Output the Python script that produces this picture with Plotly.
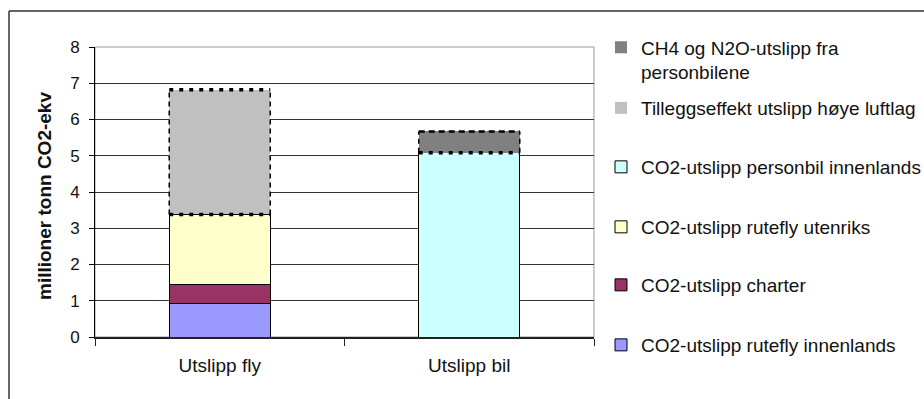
import numpy as np
import plotly.graph_objects as go

categories = ["Utslipp fly", "Utslipp bil"]

# series (stack order bottom -> top), None where not present
s_rutefly_inn = [0.92, None]
s_charter = [0.53, None]
s_rutefly_uten = [1.93, None]
s_personbil = [None, 5.08]
s_tillegg = [3.44, None]
s_ch4 = [None, 0.59]

names = [
    "CO2-utslipp rutefly innenlands",
    "CO2-utslipp charter",
    "CO2-utslipp rutefly utenriks",
    "CO2-utslipp personbil innenlands",
    "Tilleggseffekt utslipp høye luftlag",
    "CH4 og N2O-utslipp fra<br>personbilene",
]
series = [s_rutefly_inn, s_charter, s_rutefly_uten, s_personbil, s_tillegg, s_ch4]
colors = ["#9999FF", "#993366", "#FFFFCC", "#CCFFFF", "#C0C0C0", "#808080"]
dashed = [False, False, False, False, True, True]

yticks = [0, 1, 2, 3, 4, 5, 6, 7, 8]

W, H = 924, 399
L, R, T, B = 95, 330, 47, 62
pw, ph = W - L - R, H - T - B
BARW = 0.405

def px2x(px):
    return (px - L) / pw

def py2y(py):
    return (H - B - py) / ph

# legend entry centre rows (pixels)
legend_rows = {5: 60, 4: 108, 3: 167, 2: 227, 1: 285, 0: 345}

fig = go.Figure()
bases = np.zeros(len(categories))
shapes = []
for i, (nm, vals, col, dsh) in enumerate(zip(names, series, colors, dashed)):
    lg = "legend" if i == 0 else f"legend{i+1}"
    fig.add_trace(go.Bar(
        x=categories, y=vals, name=nm,
        marker=dict(color=col, line=dict(color="#000000", width=0 if dsh else 1)),
        width=BARW, legend=lg,
    ))
    v = np.array([0 if a is None else a for a in vals], dtype=float)
    if dsh:
        for ci in range(len(categories)):
            if vals[ci] is None:
                continue
            x0, x1 = ci - BARW / 2, ci + BARW / 2
            y0, y1 = bases[ci], bases[ci] + v[ci]
            side = dict(color="#000000", width=1.5, dash="5px,4px")
            shapes.append(dict(type="line", xref="x", yref="y", x0=x0, x1=x0, y0=y0, y1=y1, line=side))
            shapes.append(dict(type="line", xref="x", yref="y", x0=x1, x1=x1, y0=y0, y1=y1, line=side))
            top_dash = "4px,6px" if i == 4 else "6px,4px"
            shapes.append(dict(type="line", xref="x", yref="y", x0=x0, x1=x1, y0=y1, y1=y1,
                               line=dict(color="#000000", width=3.5 if i == 4 else 2.5, dash=top_dash)))
            shapes.append(dict(type="line", xref="x", yref="y", x0=x0, x1=x1, y0=y0, y1=y0,
                               line=dict(color="#000000", width=3.5, dash="4px,6px")))
    bases = bases + v

# plot-area border (gray)
shapes.append(dict(type="rect", xref="paper", yref="paper", x0=0, x1=1, y0=0, y1=1,
                   line=dict(color="#999999", width=1), layer="below"))
# outer chart border: only top and left edges are inside the picture
shapes.append(dict(type="line", xref="paper", yref="paper",
                   x0=px2x(9), x1=px2x(W), y0=py2y(11), y1=py2y(11),
                   line=dict(color="#333333", width=1.5), layer="below"))
shapes.append(dict(type="line", xref="paper", yref="paper",
                   x0=px2x(9), x1=px2x(9), y0=py2y(H), y1=py2y(11),
                   line=dict(color="#333333", width=1.5), layer="below"))

layout_legends = {}
for i in range(len(names)):
    key = "legend" if i == 0 else f"legend{i+1}"
    layout_legends[key] = dict(
        x=px2x(601), xanchor="left",
        y=py2y(legend_rows[i]), yanchor="middle",
        font=dict(family="Liberation Sans, Arial, sans-serif", size=19, color="#111111"),
        bgcolor="rgba(0,0,0,0)", borderwidth=0,
        valign="top",
    )

fig.update_layout(
    width=W, height=H,
    margin=dict(l=L, r=R, t=T, b=B, pad=0, autoexpand=False),
    paper_bgcolor="white", plot_bgcolor="white",
    barmode="stack", showlegend=True,
    font=dict(family="Liberation Sans, Arial, sans-serif", color="#111111"),
    shapes=shapes,
    xaxis=dict(
        type="category", showgrid=False, showline=True, linecolor="#222222", linewidth=1.5,
        ticks="outside", tickson="boundaries", ticklen=7, tickcolor="#222222",
        ticklabelstandoff=10,
        tickfont=dict(size=19, color="#111111"),
    ),
    yaxis=dict(
        range=[0, 8], tickvals=yticks, showgrid=True, gridcolor="#333333", gridwidth=1,
        zeroline=False, showline=True, linecolor="#000000", linewidth=1,
        ticks="outside", ticklen=5, tickcolor="#000000", ticklabelstandoff=6,
        tickfont=dict(size=17, color="#111111"),
    ),
    annotations=[dict(
        text="<b>millioner tonn CO2-ekv</b>", textangle=-90,
        xref="paper", yref="paper", x=px2x(44), y=py2y(196), xanchor="center", yanchor="middle",
        showarrow=False, font=dict(size=19, color="#111111"),
    )],
    **layout_legends,
)

fig.write_html("out.html")
